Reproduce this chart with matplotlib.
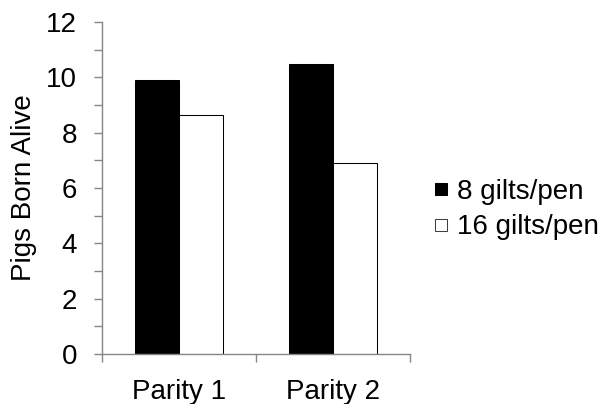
import matplotlib
matplotlib.use("Agg")
import matplotlib.pyplot as plt
from matplotlib.lines import Line2D
from matplotlib.ticker import MultipleLocator
import numpy as np

categories = ["Parity 1", "Parity 2"]
series_names = ["8 gilts/pen", "16 gilts/pen"]
gilts8 = [9.9, 10.5]
gilts16 = [8.65, 6.9]
yticks = [0, 2, 4, 6, 8, 10, 12]

plt.rcParams['font.family'] = ['Liberation Sans', 'DejaVu Sans']
FS = 20

fig = plt.figure(figsize=(6.04, 4.04), dpi=100)
ax = fig.add_axes([102/604, 1-354/404, (410-102)/604, (354-22)/404])

x = np.arange(len(categories)) + 0.5
w = 44/154
ax.bar(x - w/2, gilts8, width=w, color='black', edgecolor='black', linewidth=0.75)
ax.bar(x + w/2, gilts16, width=w, color='white', edgecolor='black', linewidth=0.75)

ax.set_xlim(0, 2)
ax.set_ylim(0, 12)
ax.set_yticks(yticks)
ax.yaxis.set_minor_locator(MultipleLocator(1))
ax.set_xticks([0, 1, 2])
ax.set_xticklabels([])
ax.set_xticks(x, minor=True)
ax.set_xticklabels(categories, minor=True)

grey = '#868686'
for s in ['top', 'right']:
    ax.spines[s].set_visible(False)
for s in ['left', 'bottom']:
    ax.spines[s].set_color(grey)
    ax.spines[s].set_linewidth(1.0)

ax.tick_params(axis='y', which='both', direction='out', length=6, width=1, color=grey,
               labelsize=FS, pad=12)
ax.tick_params(axis='x', which='major', direction='out', length=6, width=1, color=grey)
ax.tick_params(axis='x', which='minor', length=0, labelsize=FS, pad=18)

ax.set_ylabel("Pigs Born Alive", fontsize=FS, labelpad=6.5)

handles = [Line2D([], [], linestyle='none', marker='s', markersize=8.5,
                  markerfacecolor='black', markeredgecolor='black', markeredgewidth=0.75),
           Line2D([], [], linestyle='none', marker='s', markersize=8.5,
                  markerfacecolor='white', markeredgecolor='#404040', markeredgewidth=0.75)]
fig.legend(handles, series_names, loc='center left', bbox_to_anchor=(435/604, 1-209.5/404),
           frameon=False, fontsize=FS, handlelength=0.43,
           handletextpad=0.36, labelspacing=0.35, borderpad=0, borderaxespad=0)

fig.savefig("out.png", dpi=100)
